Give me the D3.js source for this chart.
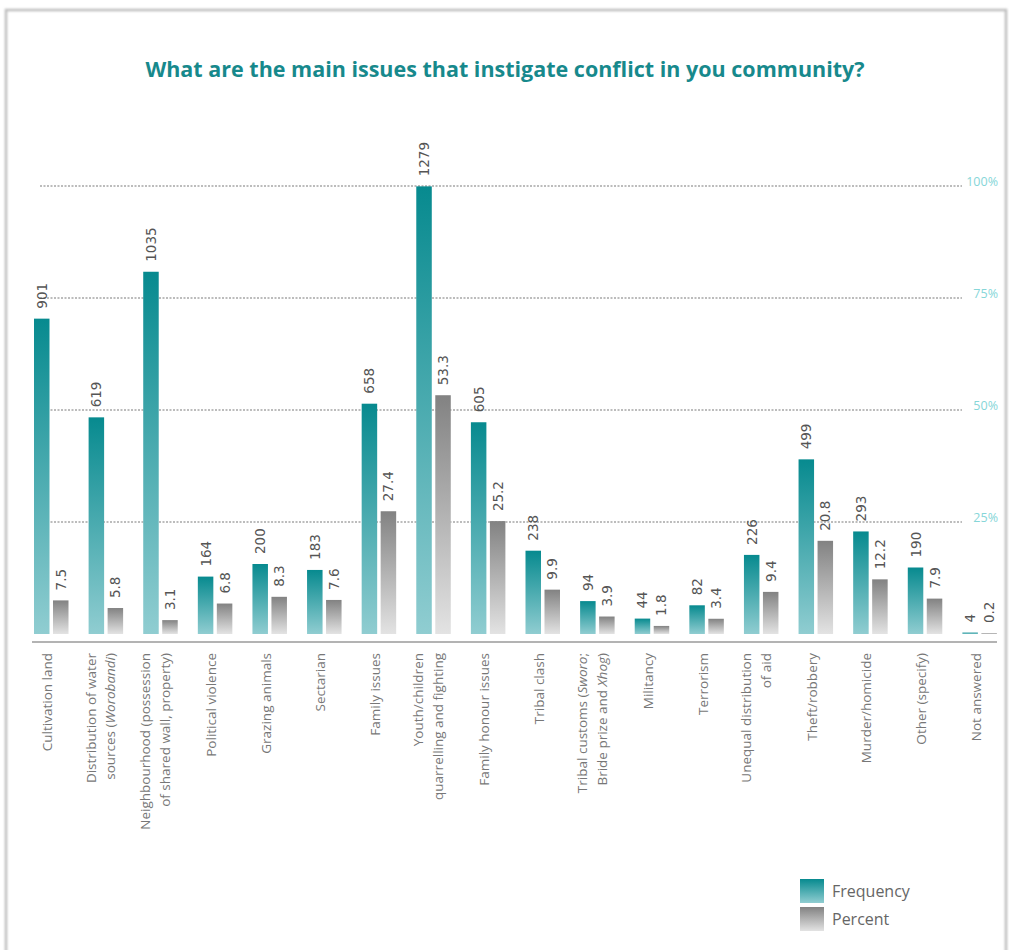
<!DOCTYPE html>
<html>
<head>
<meta charset="utf-8">
<script src="https://cdn.jsdelivr.net/npm/d3@7"></script>
<style>
  body { margin: 0; background: #ffffff; }
  svg { display: block; }
</style>
</head>
<body>
<svg id="chart" width="1009" height="950"></svg>
<script>
// Survey answers: "|" splits a label into two lines, *word* is set in italics.
const categories = [
  "Cultivation land",
  "Distribution of water|sources (*Worobandi*)",
  "Neighbourhood (possession|of shared wall, property)",
  "Political violence",
  "Grazing animals",
  "Sectarian",
  "Family issues",
  "Youth/children|quarrelling and fighting",
  "Family honour issues",
  "Tribal clash",
  "Tribal customs (*Sworo*;|Bride prize and *Xhog*)",
  "Militancy",
  "Terrorism",
  "Unequal distribution|of aid",
  "Theft/robbery",
  "Murder/homicide",
  "Other (specify)",
  "Not answered"
];
const frequency = [901, 619, 1035, 164, 200, 183, 658, 1279, 605, 238, 94, 44, 82, 226, 499, 293, 190, 4];
const percent   = [7.5, 5.8, 3.1, 6.8, 8.3, 7.6, 27.4, 53.3, 25.2, 9.9, 3.9, 1.8, 3.4, 9.4, 20.8, 12.2, 7.9, 0.2];
const seriesNames = ["Frequency", "Percent"];
const percentTicks = [25, 50, 75, 100];

const title = "What are the main issues that instigate conflict in you community?";

const svg = d3.select("#chart");
const baseY = 634, topY = 186;

const x = d3.scaleBand().domain(categories).range([24, 1007]).paddingInner(0).paddingOuter(0);
const inner = d3.scaleBand().domain(seriesNames).range([10, 44.5]).paddingInner(0.184);
const yPct = d3.scaleLinear().domain([0, 100]).range([baseY, topY]);
const yFreq = d3.scaleLinear().domain([0, 1280]).range([baseY, topY]);

// gradients: dark at the top of each bar, fading towards the base
const defs = svg.append("defs");
function grad(id, top, bottom) {
  const g = defs.append("linearGradient").attr("id", id)
    .attr("x1", 0).attr("y1", 0).attr("x2", 0).attr("y2", 1);
  g.append("stop").attr("offset", "0%").attr("stop-color", top);
  g.append("stop").attr("offset", "100%").attr("stop-color", bottom);
}
grad("tealGrad", "#078a8f", "#90cdd1");
grad("grayGrad", "#828282", "#e3e3e3");
const fills = { Frequency: "url(#tealGrad)", Percent: "url(#grayGrad)" };

const blur = defs.append("filter").attr("id", "soft");
blur.append("feGaussianBlur").attr("stdDeviation", 0.8);

// page frame
svg.append("rect")
  .attr("x", 6).attr("y", 10).attr("width", 1000).attr("height", 950)
  .attr("fill", "none").attr("stroke", "#bdbdbd").attr("stroke-width", 2.5)
  .attr("filter", "url(#soft)");

// title
svg.append("text")
  .attr("x", 505).attr("y", 77)
  .attr("text-anchor", "middle")
  .attr("font-family", "'Open Sans', Lato, sans-serif")
  .attr("font-weight", 700)
  .attr("font-size", 21.5)
  .attr("fill", "#17898c")
  .text(title);

// dotted gridlines with percentage labels on the right
const grid = svg.append("g");
grid.selectAll("line").data(percentTicks).join("line")
  .attr("x1", 40).attr("x2", 962)
  .attr("y1", d => yPct(d)).attr("y2", d => yPct(d))
  .attr("stroke", "#a6a6a6").attr("stroke-width", 1.3)
  .attr("stroke-dasharray", "2,1.5");
grid.selectAll("text").data(percentTicks).join("text")
  .attr("x", 998).attr("y", d => yPct(d) - 5)
  .attr("text-anchor", "end")
  .attr("dominant-baseline", "central")
  .attr("font-family", "'Open Sans', sans-serif")
  .attr("font-size", 12.5)
  .attr("fill", "#86d6d8")
  .text(d => d + "%");

// bars
const rows = categories.map((c, i) => ({ cat: c, Frequency: frequency[i], Percent: percent[i] }));
const scaleFor = { Frequency: yFreq, Percent: yPct };

const groups = svg.append("g").selectAll("g").data(rows).join("g")
  .attr("transform", d => `translate(${x(d.cat)},0)`);

groups.selectAll("rect").data(d => seriesNames.map(s => ({ s, v: d[s] }))).join("rect")
  .attr("x", d => inner(d.s))
  .attr("width", inner.bandwidth())
  .attr("y", d => scaleFor[d.s](d.v))
  .attr("height", d => baseY - scaleFor[d.s](d.v))
  .attr("fill", d => fills[d.s]);

// value labels above each bar, rotated
groups.selectAll("text.val").data(d => seriesNames.map(s => ({ s, v: d[s] }))).join("text")
  .attr("class", "val")
  .attr("transform", d => `translate(${inner(d.s) + inner.bandwidth() / 2},${scaleFor[d.s](d.v) - 10}) rotate(-90)`)
  .attr("text-anchor", "start")
  .attr("dominant-baseline", "central")
  .attr("font-family", "'DejaVu Sans', sans-serif")
  .attr("font-size", 13.5)
  .attr("fill", "#555")
  .text(d => d.s === "Percent" ? d3.format(".1f")(d.v) : d.v);

// baseline
svg.append("line")
  .attr("x1", 32).attr("x2", 997)
  .attr("y1", 642).attr("y2", 642)
  .attr("stroke", "#9a9a9a").attr("stroke-width", 1.6);

// category labels, rotated and hanging from the baseline
const catLabels = svg.append("g").selectAll("g").data(categories).join("g")
  .attr("transform", c => {
    const n = c.split("|").length;
    const cx = x(c) + x.bandwidth() / 2 - 4 - (n - 1) * 1.5;
    return `translate(${cx},653) rotate(-90)`;
  });

catLabels.each(function (c) {
  const lines = c.split("|");
  const n = lines.length;
  const t = d3.select(this).append("text")
    .attr("text-anchor", "end")
    .attr("font-family", "'Open Sans', sans-serif")
    .attr("font-size", 13.5)
    .attr("fill", "#777");
  lines.forEach((ln, i) => {
    const line = t.append("tspan")
      .attr("x", 0)
      .attr("y", (i - (n - 1) / 2) * 19.5)
      .attr("dominant-baseline", "central");
    ln.split("*").forEach((part, k) => {
      if (!part) return;
      line.append("tspan")
        .attr("font-style", k % 2 ? "italic" : "normal")
        .text(part);
    });
  });
});

// legend
const legend = svg.append("g").attr("transform", "translate(800,879)");
legend.selectAll("rect").data(seriesNames).join("rect")
  .attr("x", 0).attr("y", (d, i) => i * 28)
  .attr("width", 24).attr("height", 24)
  .attr("fill", d => fills[d]);
legend.selectAll("text").data(seriesNames).join("text")
  .attr("x", 32).attr("y", (d, i) => i * 28 + 12)
  .attr("dominant-baseline", "central")
  .attr("font-family", "'Open Sans', sans-serif")
  .attr("font-size", 16)
  .attr("fill", "#666")
  .text(d => d);
</script>
</body>
</html>
